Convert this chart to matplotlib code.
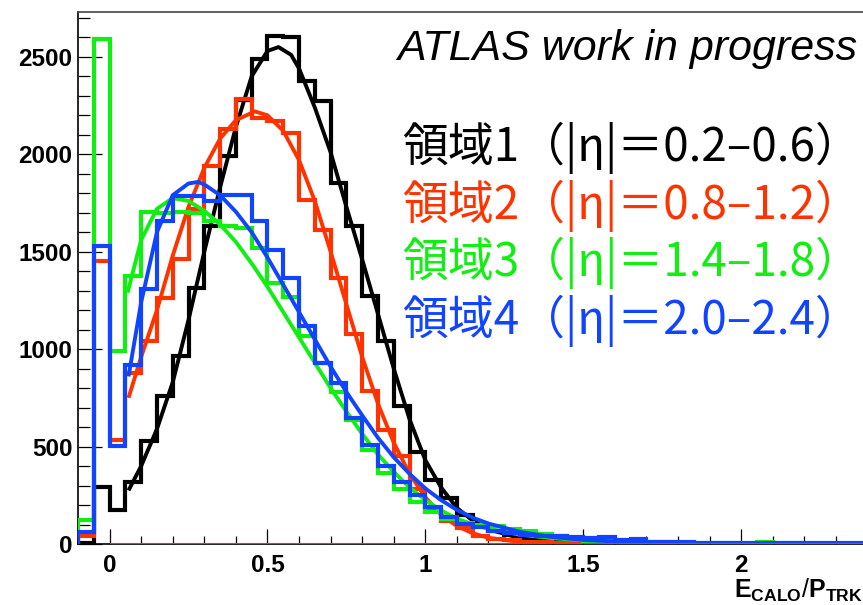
import numpy as np
import matplotlib
matplotlib.use("Agg")
import matplotlib.pyplot as plt
from matplotlib.ticker import MultipleLocator

# E/p histograms, 0.05 wide bins starting at -0.1
bin_lo = -0.1
bin_w = 0.05

region1 = [5, 290, 176, 316, 527, 758, 963, 1316, 1630, 1990, 2280, 2490, 2606, 2600,
           2375, 2272, 1850, 1630, 1271, 1040, 706, 470, 330, 238, 150, 100, 68, 48,
           33, 24, 16, 11, 8, 6, 4, 3, 2, 2, 1, 1, 1, 0, 0, 0, 0, 0, 0, 0, 0, 0, 0, 0]
region2 = [41, 1450, 535, 880, 1040, 1260, 1460, 1720, 1940, 2130, 2281, 2188, 2170, 2110,
           1767, 1613, 1367, 1080, 785, 586, 450, 280, 186, 116, 84, 40, 25, 20,
           12, 9, 6, 4, 3, 2, 2, 1, 1, 1, 0, 0, 0, 0, 0, 0, 0, 0, 0, 0, 0, 0, 0, 0]
region3 = [123, 2592, 989, 1374, 1705, 1700, 1702, 1700, 1660, 1630, 1620, 1520, 1340, 1265,
           1066, 930, 780, 638, 484, 365, 280, 215, 165, 130, 110, 100, 92, 75,
           68, 50, 43, 30, 15, 27, 20, 12, 10, 8, 6, 5, 4, 3, 0, 12, 4, 3, 2, 2, 1, 1, 1, 0]
region4 = [61, 1528, 501, 920, 1310, 1656, 1785, 1785, 1760, 1790, 1793, 1656, 1510, 1367,
           1117, 930, 828, 648, 510, 400, 320, 250, 190, 140, 105, 85, 68, 55,
           45, 40, 40, 35, 30, 35, 20, 25, 10, 8, 8, 7, 7, 6, 6, 5, 5, 5, 4, 4, 4, 3, 3, 3]

# fitted curves
fit1_x = [0.06, 0.10, 0.15, 0.20, 0.25, 0.30, 0.35, 0.40, 0.45, 0.50, 0.535, 0.575, 0.60,
          0.65, 0.70, 0.75, 0.80, 0.85, 0.90, 0.95, 1.00, 1.05, 1.10, 1.15, 1.20, 1.30,
          1.40, 1.50, 1.70, 2.00, 2.50]
fit1_y = [275, 400, 590, 830, 1150, 1500, 1830, 2140, 2400, 2530, 2550, 2510, 2440,
          2240, 2010, 1730, 1460, 1180, 900, 640, 430, 290, 185, 120, 75, 30,
          12, 5, 1, 0, 0]
fit2_x = [0.06, 0.10, 0.15, 0.20, 0.25, 0.30, 0.35, 0.40, 0.46, 0.50, 0.55, 0.60, 0.65,
          0.70, 0.75, 0.80, 0.85, 0.90, 0.95, 1.00, 1.05, 1.10, 1.15, 1.20, 1.30, 1.40,
          1.60, 2.00, 2.50]
fit2_y = [750, 960, 1200, 1480, 1730, 1930, 2080, 2175, 2220, 2200, 2120, 1970, 1760,
          1500, 1230, 960, 720, 520, 360, 240, 150, 92, 55, 32, 10, 3,
          0, 0, 0]
fit3_x = [0.057, 0.10, 0.15, 0.20, 0.25, 0.30, 0.35, 0.40, 0.45, 0.50, 0.55, 0.60, 0.65,
          0.70, 0.75, 0.80, 0.85, 0.90, 0.95, 1.00, 1.05, 1.10, 1.15, 1.20, 1.30, 1.40,
          1.50, 1.60, 1.80, 2.00, 2.50]
fit3_y = [1290, 1560, 1720, 1775, 1760, 1710, 1640, 1550, 1440, 1320, 1190, 1060, 930,
          800, 680, 565, 460, 370, 290, 225, 172, 130, 100, 78, 48, 30,
          19, 12, 5, 2, 0]
fit4_x = [0.06, 0.10, 0.15, 0.20, 0.25, 0.28, 0.30, 0.35, 0.40, 0.45, 0.50, 0.55, 0.60,
          0.65, 0.70, 0.75, 0.80, 0.85, 0.90, 0.95, 1.00, 1.05, 1.10, 1.15, 1.20, 1.30,
          1.40, 1.50, 1.60, 1.80, 2.00, 2.50]
fit4_y = [860, 1240, 1600, 1790, 1850, 1858, 1845, 1790, 1705, 1600, 1470, 1330, 1190,
          1050, 910, 780, 660, 545, 445, 360, 285, 225, 175, 135, 105, 62,
          36, 21, 13, 5, 2, 0]

labels = ["領域1（|η|＝0.2–0.6）", "領域2（|η|＝0.8–1.2）",
          "領域3（|η|＝1.4–1.8）", "領域4（|η|＝2.0–2.4）"]
colors = ["#000000", "#ff3300", "#11ee11", "#1144ff"]

plt.rcParams["font.family"] = ["Liberation Sans", "DejaVu Sans"]
plt.rcParams["mathtext.fontset"] = "custom"
plt.rcParams["mathtext.bf"] = "Liberation Sans:bold"
plt.rcParams["mathtext.rm"] = "Liberation Sans"

W, H = 863, 605
fig = plt.figure(figsize=(W / 100, H / 100), dpi=100)
ax = fig.add_axes([78 / W, (H - 544) / H, (W - 78) / W, (544 - 12) / H])

edges = bin_lo + bin_w * np.arange(len(region1) + 1)
hists = [region1, region2, region3, region4]
fits = [(fit1_x, fit1_y), (fit2_x, fit2_y), (fit3_x, fit3_y), (fit4_x, fit4_y)]

for h, (fx, fy), c in zip(hists, fits, colors):
    ax.stairs(h, edges, color=c, lw=3.0, baseline=0, zorder=3)
    ax.plot(fx, fy, color=c, lw=2.8, zorder=3, solid_capstyle="butt")

ax.hlines(0, edges[2], edges[-1], color=colors[1], lw=1.5, zorder=4)

ax.set_xlim(-0.1, 2.386)
ax.set_ylim(0, 2730)

ax.xaxis.set_major_locator(MultipleLocator(0.5))
ax.xaxis.set_minor_locator(MultipleLocator(0.1))
ax.yaxis.set_major_locator(MultipleLocator(500))
ax.yaxis.set_minor_locator(MultipleLocator(100))
ax.xaxis.set_major_formatter(plt.FuncFormatter(lambda v, p: "%g" % v))

ax.tick_params(axis="x", which="major", direction="in", length=11, width=0.9, pad=7,
               labelsize=17.5)
ax.tick_params(axis="x", which="minor", direction="in", length=5.5, width=0.9)
ax.tick_params(axis="y", which="major", direction="in", length=17, width=0.9, pad=4,
               labelsize=17.5)
ax.tick_params(axis="y", which="minor", direction="in", length=8.5, width=0.9)
for lab in ax.get_xticklabels() + ax.get_yticklabels():
    lab.set_fontweight("bold")

ax.spines["right"].set_visible(False)
ax.spines["top"].set_color("#444444")
for s in ["left", "bottom", "top"]:
    ax.spines[s].set_linewidth(1.2)

fig.text(863 / W, 1 - 598 / H, r"$\mathbf{E}_{\mathbf{CALO}}/\mathbf{P}_{\mathbf{TRK}}$",
         ha="right", va="baseline", fontsize=18)

fig.text(397 / W, 1 - 60 / H, "ATLAS work in progress", style="italic",
         fontsize=31, ha="left", va="baseline")

for i, (txt, c) in enumerate(zip(labels, colors)):
    fig.text(402 / W, 1 - (161 + 57.7 * i) / H, txt, color=c, fontsize=33,
             family=["Noto Sans CJK JP", "DejaVu Sans"], ha="left", va="baseline")

fig.savefig("out.png", dpi=100, facecolor="white")
